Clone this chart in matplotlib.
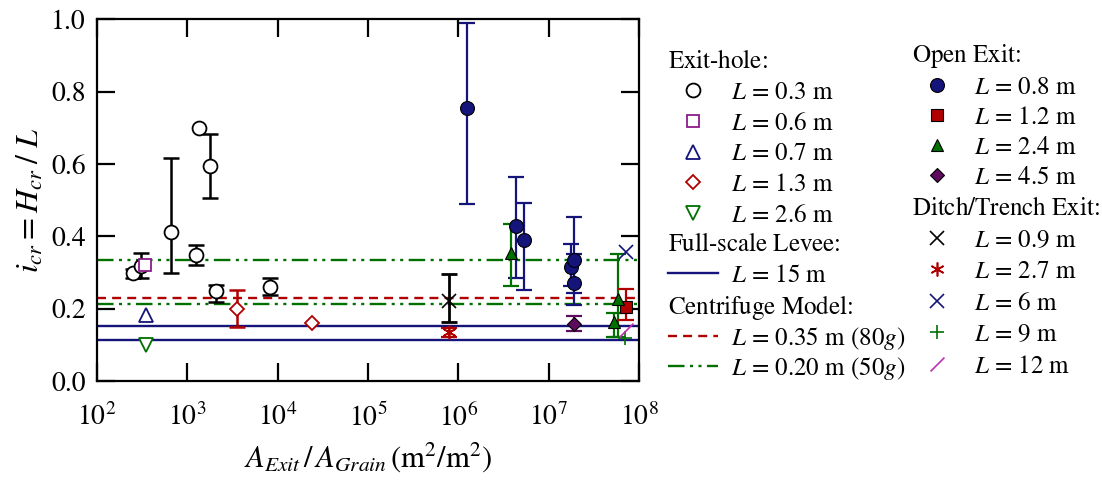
import numpy as np
import matplotlib.pyplot as plt
from matplotlib.lines import Line2D
from matplotlib.path import Path

plt.rcParams['font.family'] = ['STIXGeneral', 'DejaVu Serif']
plt.rcParams['mathtext.fontset'] = 'stix'

# ---------------- data ----------------
# Exit-hole tests (open markers)
eh03_x = [250, 310, 660, 1250, 1360, 1780, 2080, 8200]
eh03_y = [0.300, 0.318, 0.411, 0.348, 0.700, 0.595, 0.249, 0.259]
eh03_lo = [0.284, 0.284, 0.299, 0.320, None, 0.506, 0.219, 0.238]
eh03_hi = [0.310, 0.353, 0.617, 0.376, None, 0.682, 0.265, 0.284]

eh06_x = [340]
eh06_y = [0.320]

eh07_x = [346]
eh07_y = [0.182]

eh13_x = [3575, 24000]
eh13_y = [0.200, 0.160]
eh13_lo = [0.150, None]
eh13_hi = [0.253, None]

eh26_x = [346]
eh26_y = [0.100]

# Open exit tests (filled markers)
oe08_x = [1.24e6, 4.35e6, 5.25e6, 1.75e7, 1.92e7, 1.92e7]
oe08_y = [0.755, 0.429, 0.390, 0.316, 0.334, 0.270]
oe08_lo = [0.489, 0.284, 0.253, 0.262, 0.244, 0.210]
oe08_hi = [0.990, 0.563, 0.491, 0.380, 0.454, 0.351]

oe12_x = [7.2e7]
oe12_y = [0.205]
oe12_lo = [0.168]
oe12_hi = [0.254]

oe24_x = [3.8e6, 5.9e7, 5.33e7]
oe24_y = [0.353, 0.228, 0.164]
oe24_lo = [0.262, 0.121, 0.121]
oe24_hi = [0.433, 0.350, 0.187]

oe45_x = [1.92e7]
oe45_y = [0.159]
oe45_lo = [0.138]
oe45_hi = [0.180]

# Ditch / trench exit tests
dt09_x = [7.9e5]
dt09_y = [0.222]
dt09_lo = [0.164]
dt09_hi = [0.297]

dt27_x = [7.9e5]
dt27_y = [0.136]
dt27_lo = [0.121]
dt27_hi = [0.148]

dt6_x = [7.1e7]
dt6_y = [0.357]

dt9_x = [7.0e7]
dt9_y = [0.118]

dt12_x = [7.2e7]
dt12_y = [0.140]

# reference lines
levee_15 = [0.152, 0.113]
centr_035 = [0.230]
centr_020 = [0.334, 0.213]

# ---------------- styles ----------------
BLACK = 'black'
NAVY = '#14147a'
RED = '#b00000'
GREEN = '#007000'
PURPLE = '#8b1c8b'
DPURPLE = '#5e0a5e'
MAGENTA = '#c030b0'
MS = 10
slash = Path([(-1, -1), (1, 1)], [Path.MOVETO, Path.LINETO])
red_dash = (0, (3.8, 2.6))
green_dash = (0, (7, 2.3, 1.3, 2.3, 1.3, 2.3))


def err_bars(ax, x, y, lo, hi, color, lw=1.6):
    pts = [(xi, yi, l, h) for xi, yi, l, h in zip(x, y, lo, hi) if l is not None]
    if not pts:
        return
    xs = np.array([p[0] for p in pts])
    ys = np.array([p[1] for p in pts])
    el = ys - np.array([p[2] for p in pts])
    eu = np.array([p[3] for p in pts]) - ys
    ax.errorbar(xs, ys, yerr=[el, eu], fmt='none', ecolor=color,
                elinewidth=lw, capsize=5.5, capthick=lw, zorder=2)


fig = plt.figure(figsize=(11.02, 4.93), dpi=100)
ax = fig.add_axes([0.088, 0.227, 0.492, 0.734])

for v in levee_15:
    ax.axhline(v, color=NAVY, lw=1.7, zorder=1)
for v in centr_035:
    ax.axhline(v, color=RED, lw=1.7, ls=red_dash, zorder=1)
for v in centr_020:
    ax.axhline(v, color=GREEN, lw=1.7, ls=green_dash, zorder=1)

# exit-hole
err_bars(ax, eh03_x, eh03_y, eh03_lo, eh03_hi, BLACK, lw=1.8)
err_bars(ax, eh13_x, eh13_y, eh13_lo, eh13_hi, RED, lw=1.8)
ax.plot(eh03_x, eh03_y, 'o', ms=MS, mfc='white', mec=BLACK, mew=1.3, zorder=3)
ax.plot(eh06_x, eh06_y, 's', ms=MS - 1, mfc='white', mec=PURPLE, mew=1.3, zorder=3)
ax.plot(eh07_x, eh07_y, '^', ms=MS, mfc='white', mec=NAVY, mew=1.3, zorder=3)
ax.plot(eh13_x, eh13_y, 'D', ms=MS - 2.5, mfc='white', mec=RED, mew=1.3, zorder=3)
ax.plot(eh26_x, eh26_y, 'v', ms=MS, mfc='white', mec=GREEN, mew=1.3, zorder=3)

# open exit
err_bars(ax, oe08_x, oe08_y, oe08_lo, oe08_hi, NAVY)
err_bars(ax, oe24_x, oe24_y, oe24_lo, oe24_hi, GREEN)
err_bars(ax, oe12_x, oe12_y, oe12_lo, oe12_hi, RED)
err_bars(ax, oe45_x, oe45_y, oe45_lo, oe45_hi, DPURPLE)
ax.plot(oe08_x, oe08_y, 'o', ms=MS, mfc=NAVY, mec=BLACK, mew=0.8, zorder=3)
ax.plot(oe12_x, oe12_y, 's', ms=MS - 1, mfc=RED, mec=BLACK, mew=0.8, zorder=3)
ax.plot(oe24_x, oe24_y, '^', ms=MS - 1, mfc=GREEN, mec=BLACK, mew=0.8, zorder=3)
ax.plot(oe45_x, oe45_y, 'D', ms=MS - 3, mfc=DPURPLE, mec=BLACK, mew=0.8, zorder=3)

# ditch / trench exit
err_bars(ax, dt09_x, dt09_y, dt09_lo, dt09_hi, BLACK, lw=2)
err_bars(ax, dt27_x, dt27_y, dt27_lo, dt27_hi, RED)
ax.plot(dt09_x, dt09_y, 'x', ms=MS, mec=BLACK, mew=1.2, zorder=3)
ax.plot(dt27_x, dt27_y, marker=(6, 2, 0), ls='none', ms=MS, mec=RED, mew=1.2, zorder=3)
ax.plot(dt6_x, dt6_y, 'x', ms=MS, mec=NAVY, mew=1.2, zorder=3)
ax.plot(dt9_x, dt9_y, '+', ms=MS, mec=GREEN, mew=1.2, zorder=3)
ax.plot(dt12_x, dt12_y, marker=slash, ls='none', ms=MS, mec=MAGENTA, mew=1.2, zorder=3)

# axes
ax.set_xscale('log')
ax.set_xlim(1e2, 1e8)
ax.set_ylim(0, 1.0)
ax.set_xticks([1e2, 1e3, 1e4, 1e5, 1e6, 1e7, 1e8])
ax.xaxis.set_minor_locator(plt.NullLocator())
ax.set_yticks(np.arange(0, 1.01, 0.2))
ax.yaxis.set_major_formatter(plt.FormatStrFormatter('%.1f'))
ax.tick_params(which='both', direction='in', top=True, right=True,
               length=13, width=1.6, labelsize=20)
ax.tick_params(axis='x', pad=16)
ax.tick_params(axis='y', pad=8)
for s in ax.spines.values():
    s.set_linewidth(1.6)
ax.set_xlabel(r'$A_{Exit}\,/\,A_{Grain}\,(\mathrm{m}^2/\mathrm{m}^2)$', fontsize=22, labelpad=6)
ax.set_ylabel(r'$i_{cr} = H_{cr}\;/\;L$', fontsize=23, labelpad=4)

# ---------------- legend groups ----------------
def mk(marker, fc, ec, ms=MS, mew=1.3):
    return Line2D([], [], marker=marker, ls='none', ms=ms, mfc=fc, mec=ec, mew=mew)


def ln(color, ls):
    return Line2D([], [], color=color, lw=1.7, ls=ls)


W, H = fig.get_size_inches() * fig.dpi


def group(title, handles, labels, x_px, top_px, spacing=0.27):
    fig.legend(handles, labels, title=title + r'$\,$', alignment='left', loc='upper left',
               bbox_to_anchor=(x_px / W, 1 - top_px / H), bbox_transform=fig.transFigure,
               frameon=False, borderpad=0, borderaxespad=0, fontsize=18,
               title_fontsize=18, handlelength=2.0, handletextpad=0.5,
               labelspacing=spacing, markerscale=1.0)


group('Exit-hole:',
      [mk('o', 'white', BLACK), mk('s', 'white', PURPLE, MS - 1), mk('^', 'white', NAVY),
       mk('D', 'white', RED, MS - 2.5), mk('v', 'white', GREEN)],
      [r'$L$ = 0.3 m', r'$L$ = 0.6 m', r'$L$ = 0.7 m', r'$L$ = 1.3 m', r'$L$ = 2.6 m'],
      668, 50)
group('Full-scale Levee:', [ln(NAVY, '-')], [r'$L$ = 15 m'], 668, 233)
group('Centrifuge Model:', [ln(RED, red_dash), ln(GREEN, green_dash)],
      [r'$L$ = 0.35 m (80$g$)', r'$L$ = 0.20 m (50$g$)'], 668, 293, spacing=0.12)
group('Open Exit:',
      [mk('o', NAVY, BLACK, MS, 0.8), mk('s', RED, BLACK, MS - 1, 0.8),
       mk('^', GREEN, BLACK, MS - 1, 0.8), mk('D', DPURPLE, BLACK, MS - 3, 0.8)],
      [r'$L$ = 0.8 m', r'$L$ = 1.2 m', r'$L$ = 2.4 m', r'$L$ = 4.5 m'],
      912, 42, spacing=0.24)
group('Ditch/Trench Exit:',
      [mk('x', 'none', BLACK, mew=1.2), mk((6, 2, 0), 'none', RED, mew=1.2),
       mk('x', 'none', NAVY, mew=1.2), mk('+', 'none', GREEN, mew=1.2),
       mk(slash, 'none', MAGENTA, mew=1.2)],
      [r'$L$ = 0.9 m', r'$L$ = 2.7 m', r'$L$ = 6 m', r'$L$ = 9 m', r'$L$ = 12 m'],
      912, 197, spacing=0.30)

fig.savefig('out.png', dpi=100)
